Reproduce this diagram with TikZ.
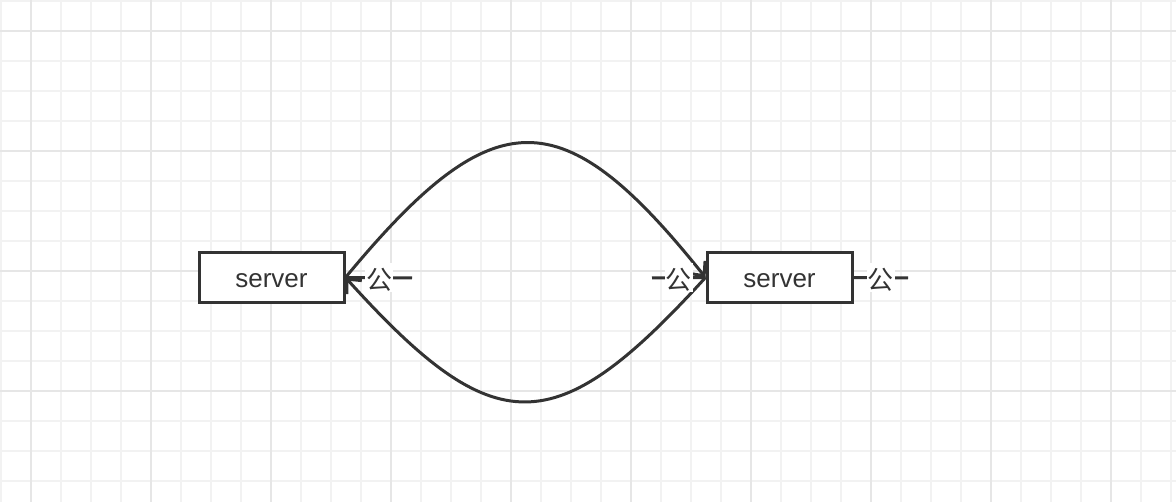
\documentclass[tikz,border=0pt]{standalone}
\usepackage{fontspec}
\newfontfamily\cjk{Noto Sans CJK SC}
\newfontfamily\lsans{Liberation Sans}
\usetikzlibrary{arrows.meta}
\definecolor{ink}{HTML}{333333}
\definecolor{gridminor}{HTML}{F2F2F2}
\definecolor{gridmajor}{HTML}{E6E6E6}
\newcommand{\lowr}[2]{\raisebox{0pt}[\dimexpr\height+#1\relax][\depth]{#2}}
\tikzset{
  serverbox/.style={draw=ink, line width=3pt, fill=white, minimum width=145pt, minimum height=50pt, inner sep=0pt, font=\lsans\fontsize{26}{30}\selectfont, text=ink},
  conn/.style={draw=ink, line width=3pt},
  arr/.style={-{Straight Barb[length=11pt, width=20pt, line width=3pt]}},
  lbl/.style={fill=white, inner sep=1pt, font=\cjk\fontsize{26}{30}\selectfont, text=ink}
}
\begin{document}
\begin{tikzpicture}[x=1pt, y=-1pt]
\useasboundingbox (0,0) rectangle (1176,502);
\fill[white] (0,0) rectangle (1176,502);
% grid
\foreach \i in {0,...,39} { \draw[gridminor, line width=2pt] ({30*\i+0.7},0) -- ({30*\i+0.7},502); }
\foreach \j in {0,...,16} { \draw[gridminor, line width=2pt] (0,{30*\j+0.7}) -- (1176,{30*\j+0.7}); }
\foreach \i in {0,...,9} { \draw[gridmajor, line width=2pt] ({30+120*\i+0.7},0) -- ({30+120*\i+0.7},502); }
\foreach \j in {0,...,3} { \draw[gridmajor, line width=2pt] (0,{30+120*\j+0.7}) -- (1176,{30+120*\j+0.7}); }
% boxes
\node[serverbox] (L) at (271.5,277.5) {\lowr{6pt}{server}};
\node[serverbox] (R) at (779.5,277.5) {\lowr{6pt}{server}};
% curves
\draw[conn, arr] (L.east) .. controls (494,98) and (562,98) .. (R.west);
\draw[conn, arr] (R.west) .. controls (555,443) and (495,443) .. (L.east);
% dangling labelled edges
\coordinate (le) at (412,278);
\coordinate (ms) at (652,278);
\coordinate (re) at (908,278);
\draw[conn] (L.east) -- node[lbl, pos=0.51] (l1) {\lowr{4pt}{公}} (le);
\draw[conn] (ms) -- node[lbl, pos=0.5] (l2) {\lowr{4pt}{公}} (R.west);
\draw[conn] (R.east) -- node[lbl, pos=0.5] (l3) {\lowr{4pt}{公}} (re);
\end{tikzpicture}
\end{document}
